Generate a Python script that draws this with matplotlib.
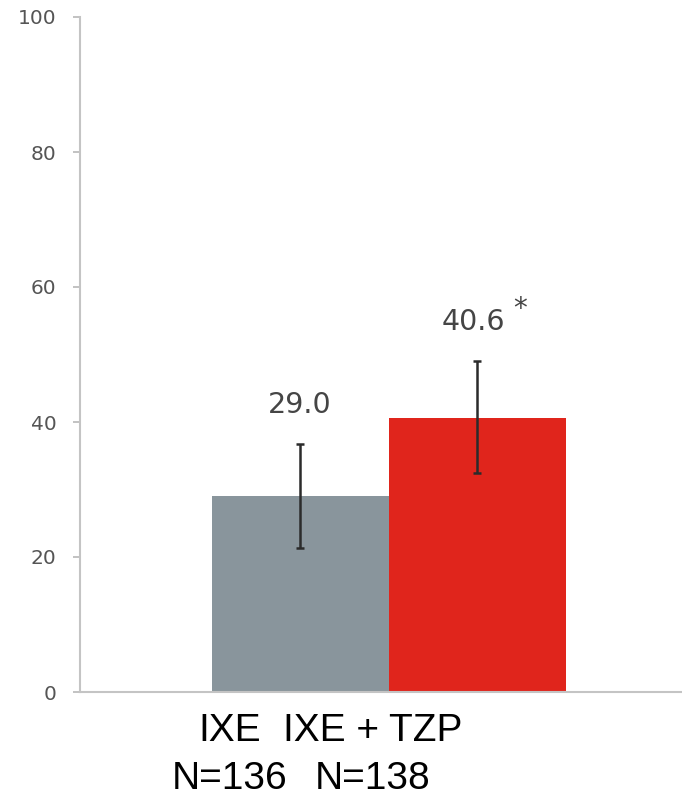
import matplotlib.pyplot as plt

# data
groups = ['IXE', 'IXE + TZP']
sizes = ['N=136', 'N=138']
values = [29.0, 40.6]
err_low = [21.3, 32.4]
err_high = [36.7, 49.0]
value_labels = ['29.0', '40.6']
colors = ['#89959c', '#e0251c']

fig = plt.figure(figsize=(6.82, 8.05), dpi=100)
ax = fig.add_axes([80 / 682, 113 / 805, 602 / 682, 675 / 805])

x = [0, 1]
yerr = [[v - lo for v, lo in zip(values, err_low)],
        [hi - v for v, hi in zip(values, err_high)]]
ax.bar(x, values, width=1.0, color=colors, zorder=2)
ax.errorbar(x, values, yerr=yerr, fmt='none', ecolor='#2b2b2b',
            elinewidth=1.8, capsize=3, capthick=1.8, zorder=3)

# value labels above the error bars
for xi, hi, lab in zip(x, err_high, value_labels):
    ax.text(xi - 0.02 * xi, hi + 4.6, lab, ha='center', va='baseline',
            fontsize=20.5, color='#454545', family='DejaVu Sans')
ax.text(1.245, 56.8, '*', ha='center', va='center', fontsize=20,
        color='#454545', family='DejaVu Sans')

ax.set_xlim(-1.243, 2.158)
ax.set_ylim(0, 100)

ax.set_yticks([0, 20, 40, 60, 80, 100])
ax.tick_params(axis='y', length=5, width=1.3, color='#bdbdbd', pad=12,
               labelsize=14.5, labelcolor='#555555')

ax.set_xticks([-0.40, 0.41])
ax.set_xticklabels([g + '\n' + n for g, n in zip(groups, sizes)],
                   fontsize=28, color='black', linespacing=1.45,
                   family='Liberation Sans')
ax.tick_params(axis='x', length=0, pad=15)

for s in ['top', 'right']:
    ax.spines[s].set_visible(False)
for s in ['left', 'bottom']:
    ax.spines[s].set_color('#c4c4c4')
    ax.spines[s].set_linewidth(1.5)

fig.savefig('out.png', dpi=100, facecolor='white')
